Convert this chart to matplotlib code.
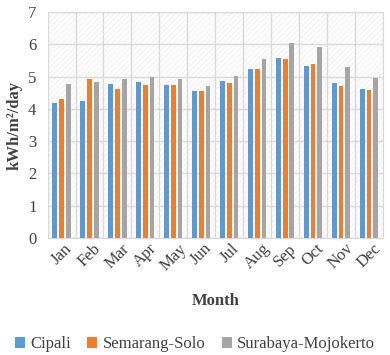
import matplotlib.pyplot as plt
from matplotlib.patches import Rectangle
import numpy as np

plt.rcParams['font.family'] = ['Liberation Serif', 'DejaVu Serif']

months = ['Jan', 'Feb', 'Mar', 'Apr', 'May', 'Jun', 'Jul', 'Aug', 'Sep', 'Oct', 'Nov', 'Dec']
cipali = [4.17, 4.24, 4.77, 4.83, 4.75, 4.56, 4.85, 5.24, 5.57, 5.34, 4.81, 4.63]
semarang_solo = [4.29, 4.93, 4.60, 4.73, 4.73, 4.55, 4.81, 5.24, 5.55, 5.40, 4.70, 4.57]
surabaya_mojokerto = [4.77, 4.83, 4.93, 4.99, 4.92, 4.72, 5.02, 5.54, 6.05, 5.93, 5.30, 4.97]

series = [('Cipali', cipali, '#5B9BD5'),
          ('Semarang-Solo', semarang_solo, '#ED7D31'),
          ('Surabaya-Mojokerto', surabaya_mojokerto, '#A5A5A5')]

fig = plt.figure(figsize=(3.9, 3.55), dpi=100)
ax = fig.add_axes([0.122, 0.330, 0.860, 0.636])

# hatched plot background
plt.rcParams['hatch.linewidth'] = 0.6
ax.add_patch(Rectangle((0, 0), 1, 1, transform=ax.transAxes, facecolor='white',
                       edgecolor='#ececec', hatch='//////', linewidth=0, zorder=0))

x = np.arange(len(months))
for i, (name, vals, color) in enumerate(series):
    ax.bar(x + (i - 1) * 0.24, vals, 0.17, color=color, label=name, zorder=3)

ax.set_xlim(-0.5, len(months) - 0.5)
ax.set_ylim(0, 7)
ax.set_yticks(range(8))
ax.set_xticks(x)
ax.set_xticklabels(months, rotation=45, fontsize=12, color='#404040')
ax.set_xticks(np.arange(-0.5, len(months)), minor=True)
ax.tick_params(axis='y', labelsize=12, colors='#404040', length=0, pad=8)
ax.tick_params(axis='x', which='both', length=0, pad=2)
ax.grid(axis='y', color='#d9d9d9', linewidth=1, zorder=1)
ax.grid(axis='x', which='minor', color='#d9d9d9', linewidth=1, zorder=1)
ax.set_axisbelow(True)
for s in ax.spines.values():
    s.set_color('#d9d9d9')

ax.set_xlabel('Month', fontsize=12, fontweight='bold', color='#404040', labelpad=14)
ax.set_ylabel('kWh/m²/day', fontsize=12, fontweight='bold', color='#404040', labelpad=4)

fig.legend(loc='center', bbox_to_anchor=(0.5, 0.03), ncol=3, frameon=False,
           prop={'family': 'Liberation Serif', 'size': 12},
           handlelength=0.6, handleheight=0.6, handletextpad=0.3,
           columnspacing=1.0, labelcolor='#404040')

fig.savefig('out.png', dpi=100)
